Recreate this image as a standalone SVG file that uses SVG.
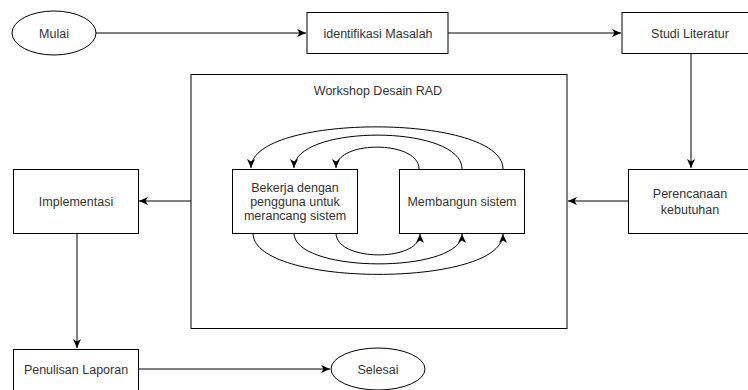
<svg xmlns="http://www.w3.org/2000/svg" width="748" height="390" viewBox="0 0 748 390">
<style>
.n{fill:#fff;stroke:#000;stroke-width:1}
.c{fill:none;stroke:#000;stroke-width:1}
.t{font-family:"Liberation Sans",Arial,sans-serif;font-size:12.5px;fill:#333;text-anchor:middle}
.e{fill:none;stroke:#000;stroke-width:1}
</style>
<defs>
<marker id="a" markerUnits="userSpaceOnUse" markerWidth="10" markerHeight="10" viewBox="0 0 10 10" refX="9" refY="5" orient="auto">
<path d="M0,1 L9,5 L0,9 L2.5,5 z" fill="#000"/>
</marker>
</defs>
<rect width="748" height="390" fill="#fff"/>
<g id="workshop"><rect class="c" x="191" y="74.5" width="376" height="254"/><text class="t" x="378" y="95">Workshop Desain RAD</text></g>
<g id="connectors">
<path class="e" d="M96,33 H306" marker-end="url(#a)"/>
<path class="e" d="M448,33 H621" marker-end="url(#a)"/>
<path class="e" d="M691,53 V168" marker-end="url(#a)"/>
<path class="e" d="M628,201 H568" marker-end="url(#a)"/>
<path class="e" d="M191,201 H139" marker-end="url(#a)"/>
<path class="e" d="M77,233 V348" marker-end="url(#a)"/>
<path class="e" d="M138,369 H330" marker-end="url(#a)"/>
<path class="e" d="M419,169 C419,140 336,140 336,168" marker-end="url(#a)"/>
<path class="e" d="M462,169 C462,124 294,124 294,168" marker-end="url(#a)"/>
<path class="e" d="M503,169 C503,113 251,113 251,168" marker-end="url(#a)"/>
<path class="e" d="M336,233 C336,262 420,262 420,234" marker-end="url(#a)"/>
<path class="e" d="M294,233 C294,274 462,274 462,234" marker-end="url(#a)"/>
<path class="e" d="M253,233 C253,288 503,288 503,234" marker-end="url(#a)"/>
</g>
<g id="mulai"><ellipse class="n" cx="54" cy="33" rx="42" ry="22"/><text class="t" x="54" y="37.5">Mulai</text></g>
<g id="identifikasi"><rect class="n" x="307" y="12.5" width="141" height="41"/><text class="t" x="378" y="37.5">identifikasi Masalah</text></g>
<g id="studi"><rect class="n" x="622" y="12.5" width="140" height="41"/><text class="t" x="690" y="37.5">Studi Literatur</text></g>
<g id="bekerja"><rect class="n" x="232.5" y="169.5" width="125" height="64"/><text class="t" x="295" y="192">Bekerja dengan</text><text class="t" x="295" y="205.5">pengguna untuk</text><text class="t" x="295" y="220">merancang sistem</text></g>
<g id="membangun"><rect class="n" x="399.5" y="169.5" width="125" height="64"/><text class="t" x="462" y="205.5">Membangun sistem</text></g>
<g id="perencanaan"><rect class="n" x="628.5" y="169.5" width="125" height="64"/><text class="t" x="690" y="197.5">Perencanaan</text><text class="t" x="690" y="213.5">kebutuhan</text></g>
<g id="implementasi"><rect class="n" x="13.5" y="169.5" width="125" height="64"/><text class="t" x="76" y="205.5">Implementasi</text></g>
<g id="penulisan"><rect class="n" x="13.5" y="349.5" width="125" height="50"/><text class="t" x="76" y="374">Penulisan Laporan</text></g>
<g id="selesai"><ellipse class="n" cx="378" cy="369" rx="47" ry="21"/><text class="t" x="378" y="373.5">Selesai</text></g>
</svg>
